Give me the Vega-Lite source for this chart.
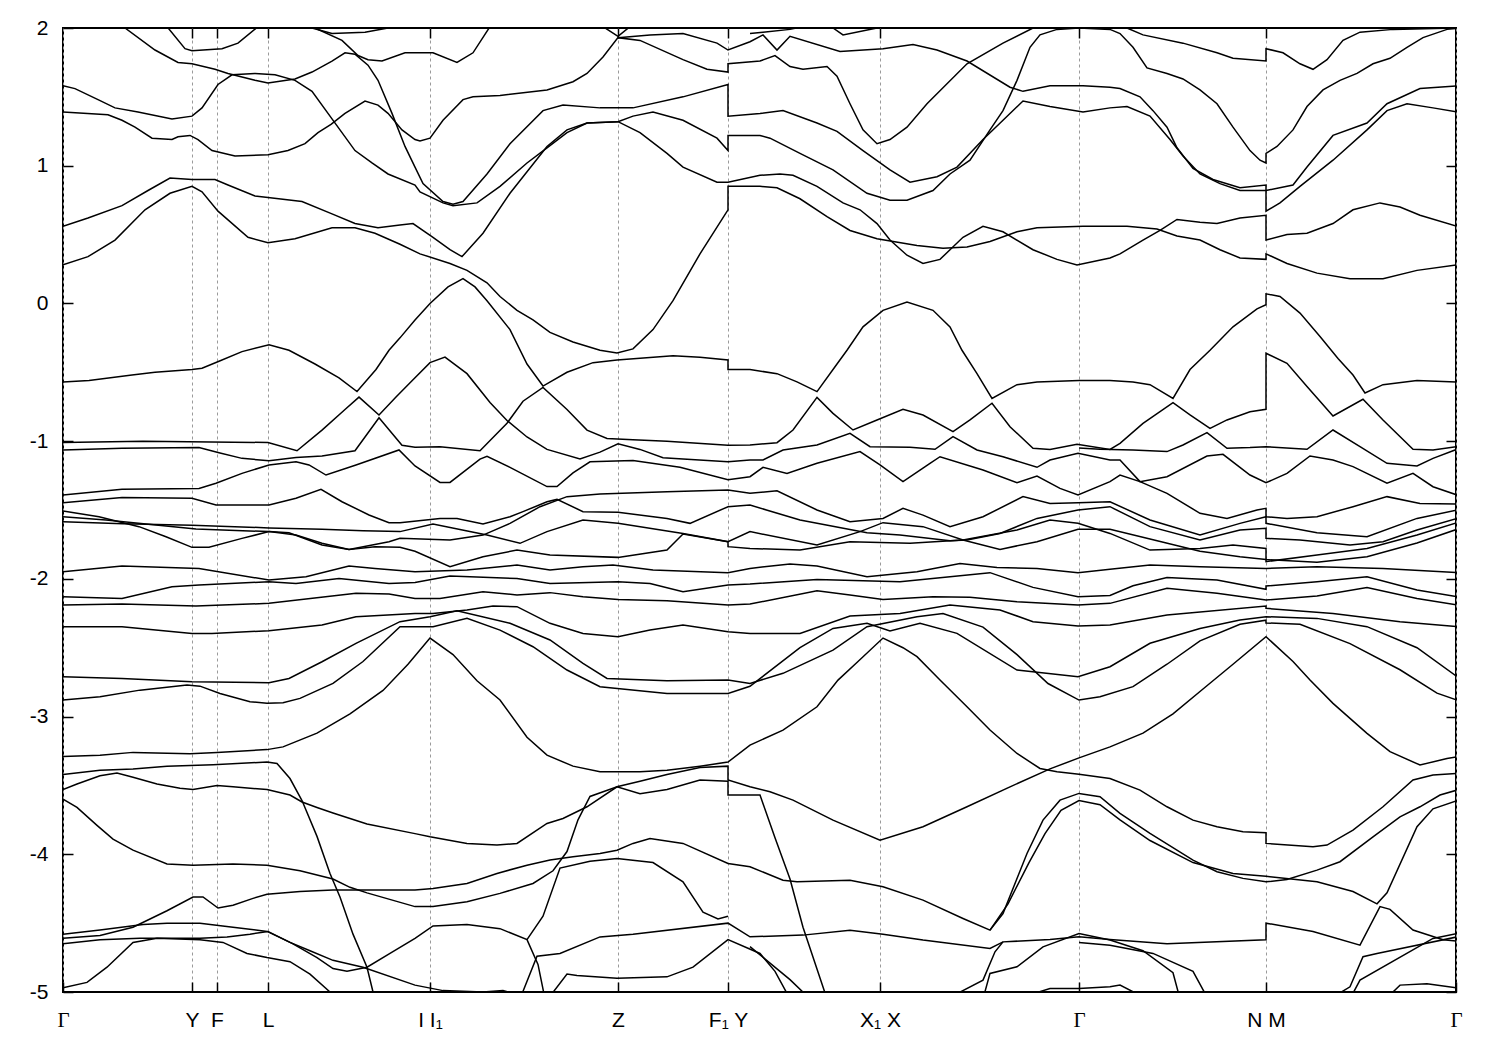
{
"$schema":"https://vega.github.io/schema/vega-lite/v6.json",
"width":1393,"height":964,
"autosize":{"type":"none"},
"padding":{"left":63,"top":28,"right":44,"bottom":58},
"config":{"view":{"stroke":"black","strokeWidth":2},"font":"Liberation Sans"},
"datasets":{"bands":[
{"b":"c01","k":104,"E":2.01},{"b":"c01","k":122,"E":1.85},{"b":"c01","k":129,"E":1.835},{"b":"c01","k":159,"E":1.85},{"b":"c01","k":175,"E":1.89},{"b":"c01","k":195,"E":2.01},
{"b":"c02","k":62,"E":2.0},{"b":"c02","k":92,"E":1.84},{"b":"c02","k":115,"E":1.75},{"b":"c02","k":129,"E":1.74},{"b":"c02","k":152,"E":1.7},{"b":"c02","k":165,"E":1.67},{"b":"c02","k":192,"E":1.62},{"b":"c02","k":205,"E":1.6},{"b":"c02","k":232,"E":1.63},{"b":"c02","k":249,"E":1.68},{"b":"c02","k":269,"E":1.76},{"b":"c02","k":282,"E":1.82},{"b":"c02","k":292,"E":1.81},{"b":"c02","k":305,"E":1.73},{"b":"c02","k":315,"E":1.62},{"b":"c02","k":329,"E":1.38},{"b":"c02","k":342,"E":1.14},{"b":"c02","k":352,"E":0.99},{"b":"c02","k":360,"E":0.87},{"b":"c02","k":380,"E":0.74},{"b":"c02","k":390,"E":0.72},{"b":"c02","k":400,"E":0.74},{"b":"c02","k":424,"E":0.94},{"b":"c02","k":447,"E":1.16},{"b":"c02","k":480,"E":1.4},{"b":"c02","k":500,"E":1.44},{"b":"c02","k":537,"E":1.42},{"b":"c02","k":570,"E":1.42},{"b":"c02","k":620,"E":1.5},{"b":"c02","k":665,"E":1.59},{"b":"c02","k":665.01,"E":1.36},{"b":"c02","k":697,"E":1.38},{"b":"c02","k":720,"E":1.4},{"b":"c02","k":754,"E":1.31},{"b":"c02","k":774,"E":1.25},{"b":"c02","k":800,"E":1.11},{"b":"c02","k":827,"E":0.97},{"b":"c02","k":847,"E":0.88},{"b":"c02","k":874,"E":0.92},{"b":"c02","k":894,"E":0.99},{"b":"c02","k":920,"E":1.19},{"b":"c02","k":940,"E":1.33},{"b":"c02","k":960,"E":1.47},{"b":"c02","k":987,"E":1.43},{"b":"c02","k":1020,"E":1.39},{"b":"c02","k":1047,"E":1.42},{"b":"c02","k":1064,"E":1.43},{"b":"c02","k":1087,"E":1.36},{"b":"c02","k":1107,"E":1.19},{"b":"c02","k":1120,"E":1.07},{"b":"c02","k":1137,"E":0.94},{"b":"c02","k":1157,"E":0.87},{"b":"c02","k":1177,"E":0.82},{"b":"c02","k":1203,"E":0.82},{"b":"c02","k":1230,"E":0.86},{"b":"c02","k":1244,"E":0.99},{"b":"c02","k":1270,"E":1.22},{"b":"c02","k":1304,"E":1.31},{"b":"c02","k":1324,"E":1.45},{"b":"c02","k":1357,"E":1.56},{"b":"c02","k":1394,"E":1.58},
{"b":"c03","k":0,"E":1.58},{"b":"c03","k":12,"E":1.56},{"b":"c03","k":35,"E":1.48},{"b":"c03","k":52,"E":1.42},{"b":"c03","k":75,"E":1.39},{"b":"c03","k":109,"E":1.34},{"b":"c03","k":129,"E":1.36},{"b":"c03","k":139,"E":1.42},{"b":"c03","k":155,"E":1.59},{"b":"c03","k":169,"E":1.66},{"b":"c03","k":192,"E":1.67},{"b":"c03","k":212,"E":1.66},{"b":"c03","k":232,"E":1.62},{"b":"c03","k":249,"E":1.54},{"b":"c03","k":269,"E":1.34},{"b":"c03","k":292,"E":1.11},{"b":"c03","k":309,"E":1.02},{"b":"c03","k":325,"E":0.94},{"b":"c03","k":352,"E":0.86},{"b":"c03","k":357,"E":0.81},{"b":"c03","k":380,"E":0.73},{"b":"c03","k":390,"E":0.71},{"b":"c03","k":414,"E":0.73},{"b":"c03","k":437,"E":0.85},{"b":"c03","k":464,"E":1.02},{"b":"c03","k":484,"E":1.13},{"b":"c03","k":504,"E":1.24},{"b":"c03","k":524,"E":1.31},{"b":"c03","k":555,"E":1.32},{"b":"c03","k":577,"E":1.24},{"b":"c03","k":604,"E":1.09},{"b":"c03","k":620,"E":0.99},{"b":"c03","k":654,"E":0.88},{"b":"c03","k":665,"E":0.88},{"b":"c03","k":697,"E":0.93},{"b":"c03","k":717,"E":0.94},{"b":"c03","k":730,"E":0.93},{"b":"c03","k":754,"E":0.85},{"b":"c03","k":780,"E":0.73},{"b":"c03","k":797,"E":0.68},{"b":"c03","k":814,"E":0.58},{"b":"c03","k":827,"E":0.46},{"b":"c03","k":844,"E":0.35},{"b":"c03","k":860,"E":0.29},{"b":"c03","k":877,"E":0.32},{"b":"c03","k":900,"E":0.48},{"b":"c03","k":920,"E":0.56},{"b":"c03","k":940,"E":0.52},{"b":"c03","k":970,"E":0.39},{"b":"c03","k":994,"E":0.32},{"b":"c03","k":1014,"E":0.28},{"b":"c03","k":1047,"E":0.33},{"b":"c03","k":1057,"E":0.36},{"b":"c03","k":1080,"E":0.46},{"b":"c03","k":1097,"E":0.53},{"b":"c03","k":1114,"E":0.61},{"b":"c03","k":1137,"E":0.59},{"b":"c03","k":1154,"E":0.58},{"b":"c03","k":1177,"E":0.62},{"b":"c03","k":1203,"E":0.64},{"b":"c03","k":1203.01,"E":0.46},{"b":"c03","k":1224,"E":0.5},{"b":"c03","k":1244,"E":0.51},{"b":"c03","k":1270,"E":0.58},{"b":"c03","k":1290,"E":0.68},{"b":"c03","k":1317,"E":0.73},{"b":"c03","k":1337,"E":0.7},{"b":"c03","k":1357,"E":0.64},{"b":"c03","k":1394,"E":0.56},
{"b":"c04","k":0,"E":1.39},{"b":"c04","k":45,"E":1.37},{"b":"c04","k":59,"E":1.33},{"b":"c04","k":72,"E":1.28},{"b":"c04","k":89,"E":1.2},{"b":"c04","k":109,"E":1.19},{"b":"c04","k":115,"E":1.21},{"b":"c04","k":127,"E":1.22},{"b":"c04","k":135,"E":1.19},{"b":"c04","k":149,"E":1.11},{"b":"c04","k":172,"E":1.07},{"b":"c04","k":205,"E":1.08},{"b":"c04","k":225,"E":1.11},{"b":"c04","k":242,"E":1.16},{"b":"c04","k":255,"E":1.24},{"b":"c04","k":268,"E":1.3},{"b":"c04","k":282,"E":1.38},{"b":"c04","k":302,"E":1.47},{"b":"c04","k":315,"E":1.44},{"b":"c04","k":325,"E":1.38},{"b":"c04","k":339,"E":1.26},{"b":"c04","k":352,"E":1.19},{"b":"c04","k":357,"E":1.18},{"b":"c04","k":367,"E":1.2},{"b":"c04","k":380,"E":1.33},{"b":"c04","k":400,"E":1.48},{"b":"c04","k":410,"E":1.5},{"b":"c04","k":437,"E":1.51},{"b":"c04","k":484,"E":1.55},{"b":"c04","k":510,"E":1.61},{"b":"c04","k":524,"E":1.67},{"b":"c04","k":540,"E":1.79},{"b":"c04","k":555,"E":1.93},{"b":"c04","k":577,"E":1.91},{"b":"c04","k":620,"E":1.77},{"b":"c04","k":644,"E":1.7},{"b":"c04","k":665,"E":1.68},{"b":"c04","k":665.01,"E":1.74},{"b":"c04","k":697,"E":1.76},{"b":"c04","k":712,"E":1.8},{"b":"c04","k":727,"E":1.72},{"b":"c04","k":740,"E":1.7},{"b":"c04","k":764,"E":1.72},{"b":"c04","k":774,"E":1.65},{"b":"c04","k":787,"E":1.45},{"b":"c04","k":800,"E":1.26},{"b":"c04","k":814,"E":1.16},{"b":"c04","k":827,"E":1.19},{"b":"c04","k":844,"E":1.28},{"b":"c04","k":864,"E":1.45},{"b":"c04","k":904,"E":1.74},{"b":"c04","k":940,"E":1.89},{"b":"c04","k":970,"E":2.0},{"b":"c04","k":980,"E":2.03},
{"b":"c05","k":0,"E":0.56},{"b":"c05","k":25,"E":0.62},{"b":"c05","k":59,"E":0.71},{"b":"c05","k":85,"E":0.82},{"b":"c05","k":107,"E":0.91},{"b":"c05","k":129,"E":0.9},{"b":"c05","k":152,"E":0.9},{"b":"c05","k":165,"E":0.86},{"b":"c05","k":192,"E":0.78},{"b":"c05","k":205,"E":0.77},{"b":"c05","k":239,"E":0.74},{"b":"c05","k":269,"E":0.65},{"b":"c05","k":292,"E":0.58},{"b":"c05","k":315,"E":0.55},{"b":"c05","k":337,"E":0.57},{"b":"c05","k":350,"E":0.58},{"b":"c05","k":370,"E":0.48},{"b":"c05","k":387,"E":0.39},{"b":"c05","k":399,"E":0.34},{"b":"c05","k":420,"E":0.51},{"b":"c05","k":447,"E":0.8},{"b":"c05","k":484,"E":1.14},{"b":"c05","k":504,"E":1.26},{"b":"c05","k":524,"E":1.31},{"b":"c05","k":555,"E":1.32},{"b":"c05","k":570,"E":1.36},{"b":"c05","k":590,"E":1.39},{"b":"c05","k":620,"E":1.33},{"b":"c05","k":654,"E":1.2},{"b":"c05","k":665,"E":1.11},{"b":"c05","k":665.01,"E":1.22},{"b":"c05","k":697,"E":1.22},{"b":"c05","k":707,"E":1.2},{"b":"c05","k":737,"E":1.09},{"b":"c05","k":770,"E":0.97},{"b":"c05","k":804,"E":0.8},{"b":"c05","k":827,"E":0.75},{"b":"c05","k":844,"E":0.75},{"b":"c05","k":870,"E":0.82},{"b":"c05","k":887,"E":0.94},{"b":"c05","k":907,"E":1.04},{"b":"c05","k":927,"E":1.26},{"b":"c05","k":940,"E":1.4},{"b":"c05","k":954,"E":1.62},{"b":"c05","k":967,"E":1.86},{"b":"c05","k":977,"E":1.95},{"b":"c05","k":994,"E":1.99},{"b":"c05","k":1016,"E":2.0},{"b":"c05","k":1047,"E":1.99},{"b":"c05","k":1057,"E":1.96},{"b":"c05","k":1070,"E":1.86},{"b":"c05","k":1084,"E":1.71},{"b":"c05","k":1104,"E":1.67},{"b":"c05","k":1120,"E":1.63},{"b":"c05","k":1137,"E":1.55},{"b":"c05","k":1154,"E":1.45},{"b":"c05","k":1170,"E":1.28},{"b":"c05","k":1187,"E":1.11},{"b":"c05","k":1197,"E":1.04},{"b":"c05","k":1203,"E":1.02},{"b":"c05","k":1203.01,"E":1.09},{"b":"c05","k":1214,"E":1.14},{"b":"c05","k":1230,"E":1.26},{"b":"c05","k":1244,"E":1.43},{"b":"c05","k":1260,"E":1.55},{"b":"c05","k":1277,"E":1.62},{"b":"c05","k":1294,"E":1.67},{"b":"c05","k":1310,"E":1.74},{"b":"c05","k":1327,"E":1.78},{"b":"c05","k":1344,"E":1.86},{"b":"c05","k":1360,"E":1.93},{"b":"c05","k":1384,"E":1.99},{"b":"c05","k":1394,"E":2.0},
{"b":"c06","k":0,"E":0.28},{"b":"c06","k":25,"E":0.34},{"b":"c06","k":52,"E":0.46},{"b":"c06","k":82,"E":0.68},{"b":"c06","k":107,"E":0.8},{"b":"c06","k":129,"E":0.85},{"b":"c06","k":139,"E":0.81},{"b":"c06","k":155,"E":0.67},{"b":"c06","k":185,"E":0.48},{"b":"c06","k":205,"E":0.44},{"b":"c06","k":232,"E":0.47},{"b":"c06","k":269,"E":0.55},{"b":"c06","k":292,"E":0.55},{"b":"c06","k":312,"E":0.51},{"b":"c06","k":337,"E":0.43},{"b":"c06","k":357,"E":0.36},{"b":"c06","k":387,"E":0.29},{"b":"c06","k":404,"E":0.24},{"b":"c06","k":424,"E":0.15},{"b":"c06","k":437,"E":0.05},{"b":"c06","k":454,"E":-0.05},{"b":"c06","k":470,"E":-0.12},{"b":"c06","k":487,"E":-0.21},{"b":"c06","k":510,"E":-0.28},{"b":"c06","k":537,"E":-0.34},{"b":"c06","k":554,"E":-0.36},{"b":"c06","k":570,"E":-0.33},{"b":"c06","k":590,"E":-0.19},{"b":"c06","k":610,"E":0.02},{"b":"c06","k":637,"E":0.36},{"b":"c06","k":665,"E":0.68},{"b":"c06","k":665.01,"E":0.85},{"b":"c06","k":697,"E":0.85},{"b":"c06","k":714,"E":0.84},{"b":"c06","k":737,"E":0.76},{"b":"c06","k":764,"E":0.63},{"b":"c06","k":787,"E":0.53},{"b":"c06","k":814,"E":0.47},{"b":"c06","k":854,"E":0.42},{"b":"c06","k":880,"E":0.4},{"b":"c06","k":904,"E":0.41},{"b":"c06","k":927,"E":0.45},{"b":"c06","k":954,"E":0.52},{"b":"c06","k":974,"E":0.55},{"b":"c06","k":1020,"E":0.56},{"b":"c06","k":1047,"E":0.56},{"b":"c06","k":1064,"E":0.56},{"b":"c06","k":1094,"E":0.54},{"b":"c06","k":1114,"E":0.49},{"b":"c06","k":1137,"E":0.46},{"b":"c06","k":1157,"E":0.39},{"b":"c06","k":1177,"E":0.33},{"b":"c06","k":1203,"E":0.32},{"b":"c06","k":1203.01,"E":0.36},{"b":"c06","k":1224,"E":0.29},{"b":"c06","k":1254,"E":0.22},{"b":"c06","k":1287,"E":0.18},{"b":"c06","k":1320,"E":0.18},{"b":"c06","k":1354,"E":0.24},{"b":"c06","k":1394,"E":0.28},
{"b":"c07","k":249,"E":2.0},{"b":"c07","k":269,"E":1.96},{"b":"c07","k":302,"E":1.97},{"b":"c07","k":325,"E":2.0},
{"b":"c08","k":252,"E":2.0},{"b":"c08","k":279,"E":1.91},{"b":"c08","k":295,"E":1.8},{"b":"c08","k":305,"E":1.77},{"b":"c08","k":319,"E":1.76},{"b":"c08","k":342,"E":1.82},{"b":"c08","k":352,"E":1.82},{"b":"c08","k":370,"E":1.82},{"b":"c08","k":394,"E":1.75},{"b":"c08","k":410,"E":1.82},{"b":"c08","k":427,"E":2.01},
{"b":"c09","k":540,"E":2.01},{"b":"c09","k":555,"E":1.94},{"b":"c09","k":567,"E":2.01},
{"b":"c10","k":555,"E":1.93},{"b":"c10","k":587,"E":1.95},{"b":"c10","k":620,"E":1.96},{"b":"c10","k":654,"E":1.89},{"b":"c10","k":665,"E":1.84},{"b":"c10","k":687,"E":1.9},{"b":"c10","k":700,"E":1.95},{"b":"c10","k":714,"E":1.84},{"b":"c10","k":727,"E":1.94},{"b":"c10","k":777,"E":1.83},{"b":"c10","k":820,"E":1.85},{"b":"c10","k":850,"E":1.88},{"b":"c10","k":874,"E":1.84},{"b":"c10","k":904,"E":1.76},{"b":"c10","k":947,"E":1.57},{"b":"c10","k":960,"E":1.54},{"b":"c10","k":987,"E":1.58},{"b":"c10","k":1020,"E":1.58},{"b":"c10","k":1047,"E":1.57},{"b":"c10","k":1057,"E":1.56},{"b":"c10","k":1077,"E":1.5},{"b":"c10","k":1090,"E":1.4},{"b":"c10","k":1104,"E":1.28},{"b":"c10","k":1114,"E":1.13},{"b":"c10","k":1130,"E":0.98},{"b":"c10","k":1150,"E":0.9},{"b":"c10","k":1177,"E":0.84},{"b":"c10","k":1203,"E":0.86},{"b":"c10","k":1203.01,"E":0.67},{"b":"c10","k":1217,"E":0.73},{"b":"c10","k":1237,"E":0.85},{"b":"c10","k":1270,"E":1.04},{"b":"c10","k":1304,"E":1.26},{"b":"c10","k":1324,"E":1.4},{"b":"c10","k":1344,"E":1.45},{"b":"c10","k":1370,"E":1.42},{"b":"c10","k":1394,"E":1.39},
{"b":"c11","k":687,"E":1.96},{"b":"c11","k":700,"E":1.97},{"b":"c11","k":727,"E":1.99},{"b":"c11","k":740,"E":2.01},
{"b":"c12","k":770,"E":2.0},{"b":"c12","k":780,"E":1.95},{"b":"c12","k":814,"E":2.0},
{"b":"c13","k":1064,"E":2.0},{"b":"c13","k":1080,"E":1.95},{"b":"c13","k":1120,"E":1.89},{"b":"c13","k":1154,"E":1.82},{"b":"c13","k":1170,"E":1.78},{"b":"c13","k":1203,"E":1.76},{"b":"c13","k":1203.01,"E":1.85},{"b":"c13","k":1220,"E":1.82},{"b":"c13","k":1237,"E":1.74},{"b":"c13","k":1250,"E":1.7},{"b":"c13","k":1264,"E":1.77},{"b":"c13","k":1280,"E":1.91},{"b":"c13","k":1297,"E":1.97},{"b":"c13","k":1330,"E":1.99},{"b":"c13","k":1394,"E":2.0},
{"b":"v01","k":0,"E":-0.57},{"b":"v01","k":26,"E":-0.56},{"b":"v01","k":69,"E":-0.52},{"b":"v01","k":92,"E":-0.5},{"b":"v01","k":129,"E":-0.48},{"b":"v01","k":139,"E":-0.47},{"b":"v01","k":156,"E":-0.42},{"b":"v01","k":179,"E":-0.35},{"b":"v01","k":206,"E":-0.3},{"b":"v01","k":226,"E":-0.34},{"b":"v01","k":252,"E":-0.44},{"b":"v01","k":276,"E":-0.54},{"b":"v01","k":294,"E":-0.64},{"b":"v01","k":313,"E":-0.48},{"b":"v01","k":326,"E":-0.34},{"b":"v01","k":337,"E":-0.25},{"b":"v01","k":352,"E":-0.12},{"b":"v01","k":367,"E":0.0},{"b":"v01","k":385,"E":0.12},{"b":"v01","k":400,"E":0.18},{"b":"v01","k":412,"E":0.12},{"b":"v01","k":424,"E":0.02},{"b":"v01","k":447,"E":-0.19},{"b":"v01","k":464,"E":-0.44},{"b":"v01","k":480,"E":-0.6},{"b":"v01","k":504,"E":-0.5},{"b":"v01","k":530,"E":-0.43},{"b":"v01","k":554,"E":-0.41},{"b":"v01","k":610,"E":-0.38},{"b":"v01","k":637,"E":-0.39},{"b":"v01","k":665,"E":-0.41},{"b":"v01","k":665.01,"E":-0.48},{"b":"v01","k":687,"E":-0.48},{"b":"v01","k":714,"E":-0.51},{"b":"v01","k":734,"E":-0.57},{"b":"v01","k":754,"E":-0.64},{"b":"v01","k":774,"E":-0.44},{"b":"v01","k":784,"E":-0.34},{"b":"v01","k":800,"E":-0.17},{"b":"v01","k":820,"E":-0.05},{"b":"v01","k":844,"E":0.01},{"b":"v01","k":870,"E":-0.05},{"b":"v01","k":887,"E":-0.17},{"b":"v01","k":899,"E":-0.34},{"b":"v01","k":914,"E":-0.51},{"b":"v01","k":929,"E":-0.69},{"b":"v01","k":954,"E":-0.59},{"b":"v01","k":974,"E":-0.57},{"b":"v01","k":1016,"E":-0.56},{"b":"v01","k":1047,"E":-0.56},{"b":"v01","k":1070,"E":-0.57},{"b":"v01","k":1087,"E":-0.59},{"b":"v01","k":1110,"E":-0.69},{"b":"v01","k":1127,"E":-0.48},{"b":"v01","k":1147,"E":-0.34},{"b":"v01","k":1170,"E":-0.17},{"b":"v01","k":1194,"E":-0.04},{"b":"v01","k":1203,"E":-0.01},{"b":"v01","k":1203.01,"E":0.07},{"b":"v01","k":1217,"E":0.05},{"b":"v01","k":1237,"E":-0.07},{"b":"v01","k":1257,"E":-0.24},{"b":"v01","k":1275,"E":-0.4},{"b":"v01","k":1290,"E":-0.52},{"b":"v01","k":1302,"E":-0.65},{"b":"v01","k":1320,"E":-0.59},{"b":"v01","k":1354,"E":-0.56},{"b":"v01","k":1394,"E":-0.57},
{"b":"v02","k":0,"E":-1.01},{"b":"v02","k":80,"E":-1.0},{"b":"v02","k":205,"E":-1.01},{"b":"v02","k":234,"E":-1.07},{"b":"v02","k":259,"E":-0.92},{"b":"v02","k":282,"E":-0.77},{"b":"v02","k":296,"E":-0.68},{"b":"v02","k":316,"E":-0.81},{"b":"v02","k":333,"E":-0.68},{"b":"v02","k":352,"E":-0.54},{"b":"v02","k":367,"E":-0.43},{"b":"v02","k":382,"E":-0.39},{"b":"v02","k":404,"E":-0.51},{"b":"v02","k":427,"E":-0.72},{"b":"v02","k":444,"E":-0.85},{"b":"v02","k":464,"E":-0.97},{"b":"v02","k":484,"E":-1.06},{"b":"v02","k":517,"E":-1.13},{"b":"v02","k":537,"E":-1.08},{"b":"v02","k":555,"E":-1.02},{"b":"v02","k":577,"E":-1.06},{"b":"v02","k":600,"E":-1.12},{"b":"v02","k":620,"E":-1.13},{"b":"v02","k":665,"E":-1.15},{"b":"v02","k":687,"E":-1.137},{"b":"v02","k":700,"E":-1.137},{"b":"v02","k":720,"E":-1.064},{"b":"v02","k":754,"E":-1.028},{"b":"v02","k":787,"E":-0.943},{"b":"v02","k":807,"E":-1.04},{"b":"v02","k":847,"E":-1.045},{"b":"v02","k":872,"E":-1.059},{"b":"v02","k":890,"E":-0.967},{"b":"v02","k":914,"E":-1.064},{"b":"v02","k":940,"E":-1.113},{"b":"v02","k":974,"E":-1.19},{"b":"v02","k":987,"E":-1.137},{"b":"v02","k":1015,"E":-1.088},{"b":"v02","k":1047,"E":-1.137},{"b":"v02","k":1057,"E":-1.137},{"b":"v02","k":1077,"E":-1.294},{"b":"v02","k":1104,"E":-1.258},{"b":"v02","k":1144,"E":-1.108},{"b":"v02","k":1160,"E":-1.096},{"b":"v02","k":1187,"E":-1.246},{"b":"v02","k":1203,"E":-1.302},{"b":"v02","k":1224,"E":-1.234},{"b":"v02","k":1247,"E":-1.108},{"b":"v02","k":1270,"E":-1.137},{"b":"v02","k":1290,"E":-1.185},{"b":"v02","k":1324,"E":-1.306},{"b":"v02","k":1350,"E":-1.234},{"b":"v02","k":1370,"E":-1.331},{"b":"v02","k":1394,"E":-1.391},
{"b":"v03","k":0,"E":-1.064},{"b":"v03","k":59,"E":-1.052},{"b":"v03","k":136,"E":-1.047},{"b":"v03","k":156,"E":-1.084},{"b":"v03","k":179,"E":-1.125},{"b":"v03","k":206,"E":-1.142},{"b":"v03","k":233,"E":-1.118},{"b":"v03","k":259,"E":-1.108},{"b":"v03","k":292,"E":-1.07},{"b":"v03","k":316,"E":-0.83},{"b":"v03","k":339,"E":-1.03},{"b":"v03","k":352,"E":-1.045},{"b":"v03","k":377,"E":-1.04},{"b":"v03","k":417,"E":-1.07},{"b":"v03","k":444,"E":-0.87},{"b":"v03","k":460,"E":-0.71},{"b":"v03","k":480,"E":-0.61},{"b":"v03","k":504,"E":-0.77},{"b":"v03","k":524,"E":-0.92},{"b":"v03","k":544,"E":-0.98},{"b":"v03","k":570,"E":-0.99},{"b":"v03","k":604,"E":-1.0},{"b":"v03","k":665,"E":-1.03},{"b":"v03","k":687,"E":-1.028},{"b":"v03","k":714,"E":-1.011},{"b":"v03","k":730,"E":-0.919},{"b":"v03","k":754,"E":-0.682},{"b":"v03","k":770,"E":-0.798},{"b":"v03","k":790,"E":-0.919},{"b":"v03","k":814,"E":-0.846},{"b":"v03","k":840,"E":-0.769},{"b":"v03","k":860,"E":-0.81},{"b":"v03","k":890,"E":-0.931},{"b":"v03","k":907,"E":-0.846},{"b":"v03","k":929,"E":-0.725},{"b":"v03","k":947,"E":-0.895},{"b":"v03","k":970,"E":-1.052},{"b":"v03","k":987,"E":-1.06},{"b":"v03","k":1014,"E":-1.023},{"b":"v03","k":1047,"E":-1.06},{"b":"v03","k":1057,"E":-1.016},{"b":"v03","k":1080,"E":-0.871},{"b":"v03","k":1110,"E":-0.72},{"b":"v03","k":1127,"E":-0.81},{"b":"v03","k":1147,"E":-0.907},{"b":"v03","k":1164,"E":-0.846},{"b":"v03","k":1187,"E":-0.786},{"b":"v03","k":1203,"E":-0.769},{"b":"v03","k":1203.01,"E":-0.362},{"b":"v03","k":1224,"E":-0.435},{"b":"v03","k":1244,"E":-0.604},{"b":"v03","k":1270,"E":-0.817},{"b":"v03","k":1300,"E":-0.696},{"b":"v03","k":1320,"E":-0.846},{"b":"v03","k":1350,"E":-1.059},{"b":"v03","k":1370,"E":-1.064},{"b":"v03","k":1394,"E":-1.04},
{"b":"v04","k":0,"E":-1.391},{"b":"v04","k":59,"E":-1.35},{"b":"v04","k":136,"E":-1.343},{"b":"v04","k":153,"E":-1.306},{"b":"v04","k":179,"E":-1.234},{"b":"v04","k":206,"E":-1.173},{"b":"v04","k":233,"E":-1.149},{"b":"v04","k":246,"E":-1.173},{"b":"v04","k":263,"E":-1.246},{"b":"v04","k":293,"E":-1.173},{"b":"v04","k":336,"E":-1.064},{"b":"v04","k":352,"E":-1.18},{"b":"v04","k":377,"E":-1.3},{"b":"v04","k":387,"E":-1.3},{"b":"v04","k":417,"E":-1.13},{"b":"v04","k":424,"E":-1.11},{"b":"v04","k":447,"E":-1.19},{"b":"v04","k":484,"E":-1.33},{"b":"v04","k":494,"E":-1.33},{"b":"v04","k":510,"E":-1.23},{"b":"v04","k":527,"E":-1.15},{"b":"v04","k":570,"E":-1.14},{"b":"v04","k":617,"E":-1.19},{"b":"v04","k":665,"E":-1.28},{"b":"v04","k":687,"E":-1.258},{"b":"v04","k":700,"E":-1.19},{"b":"v04","k":724,"E":-1.234},{"b":"v04","k":754,"E":-1.161},{"b":"v04","k":797,"E":-1.076},{"b":"v04","k":817,"E":-1.173},{"b":"v04","k":840,"E":-1.294},{"b":"v04","k":867,"E":-1.161},{"b":"v04","k":877,"E":-1.113},{"b":"v04","k":920,"E":-1.21},{"b":"v04","k":954,"E":-1.302},{"b":"v04","k":974,"E":-1.253},{"b":"v04","k":997,"E":-1.343},{"b":"v04","k":1015,"E":-1.391},{"b":"v04","k":1047,"E":-1.294},{"b":"v04","k":1057,"E":-1.246},{"b":"v04","k":1077,"E":-1.294},{"b":"v04","k":1104,"E":-1.379},{"b":"v04","k":1137,"E":-1.524},{"b":"v04","k":1164,"E":-1.561},{"b":"v04","k":1194,"E":-1.5},{"b":"v04","k":1203,"E":-1.488},{"b":"v04","k":1203.01,"E":-1.549},{"b":"v04","k":1224,"E":-1.561},{"b":"v04","k":1254,"E":-1.549},{"b":"v04","k":1290,"E":-1.476},{"b":"v04","k":1324,"E":-1.403},{"b":"v04","k":1357,"E":-1.452},{"b":"v04","k":1394,"E":-1.457},
{"b":"v05","k":1016,"E":-1.05},{"b":"v05","k":1037,"E":-1.059},{"b":"v05","k":1070,"E":-1.064},{"b":"v05","k":1104,"E":-1.076},{"b":"v05","k":1120,"E":-1.028},{"b":"v05","k":1144,"E":-0.938},{"b":"v05","k":1164,"E":-1.052},{"b":"v05","k":1187,"E":-1.047},{"b":"v05","k":1203,"E":-1.04},{"b":"v05","k":1244,"E":-1.059},{"b":"v05","k":1270,"E":-0.919},{"b":"v05","k":1297,"E":-1.04},{"b":"v05","k":1324,"E":-1.161},{"b":"v05","k":1354,"E":-1.18},{"b":"v05","k":1370,"E":-1.125},{"b":"v05","k":1394,"E":-1.059},
{"b":"pa","k":0,"E":-1.447},{"b":"pa","k":59,"E":-1.41},{"b":"pa","k":129,"E":-1.415},{"b":"pa","k":153,"E":-1.464},{"b":"pa","k":206,"E":-1.464},{"b":"pa","k":233,"E":-1.415},{"b":"pa","k":258,"E":-1.35},{"b":"pa","k":279,"E":-1.44},{"b":"pa","k":306,"E":-1.536},{"b":"pa","k":326,"E":-1.592},{"b":"pa","k":337,"E":-1.592},{"b":"pa","k":377,"E":-1.561},{"b":"pa","k":394,"E":-1.561},{"b":"pa","k":420,"E":-1.602},{"b":"pa","k":447,"E":-1.549},{"b":"pa","k":460,"E":-1.512},{"b":"pa","k":484,"E":-1.44},{"b":"pa","k":494,"E":-1.423},{"b":"pa","k":520,"E":-1.512},{"b":"pa","k":555,"E":-1.517},{"b":"pa","k":604,"E":-1.561},{"b":"pa","k":627,"E":-1.597},{"b":"pa","k":665,"E":-1.476},{"b":"pa","k":687,"E":-1.464},{"b":"pa","k":737,"E":-1.573},{"b":"pa","k":804,"E":-1.665},{"b":"pa","k":837,"E":-1.682},{"b":"pa","k":887,"E":-1.723},{"b":"pa","k":904,"E":-1.718},{"b":"pa","k":937,"E":-1.67},{"b":"pa","k":974,"E":-1.561},{"b":"pa","k":1015,"E":-1.5},{"b":"pa","k":1047,"E":-1.476},{"b":"pa","k":1087,"E":-1.621},{"b":"pa","k":1137,"E":-1.718},{"b":"pa","k":1177,"E":-1.645},{"b":"pa","k":1203,"E":-1.633},{"b":"pa","k":1203.01,"E":-1.706},{"b":"pa","k":1237,"E":-1.718},{"b":"pa","k":1287,"E":-1.754},{"b":"pa","k":1320,"E":-1.73},{"b":"pa","k":1354,"E":-1.645},{"b":"pa","k":1394,"E":-1.561},
{"b":"pb","k":0,"E":-1.549},{"b":"pb","k":43,"E":-1.573},{"b":"pb","k":93,"E":-1.609},{"b":"pb","k":133,"E":-1.638},{"b":"pb","k":206,"E":-1.657},{"b":"pb","k":226,"E":-1.665},{"b":"pb","k":259,"E":-1.754},{"b":"pb","k":286,"E":-1.786},{"b":"pb","k":326,"E":-1.73},{"b":"pb","k":337,"E":-1.706},{"b":"pb","k":387,"E":-1.718},{"b":"pb","k":420,"E":-1.682},{"b":"pb","k":447,"E":-1.597},{"b":"pb","k":477,"E":-1.476},{"b":"pb","k":504,"E":-1.403},{"b":"pb","k":537,"E":-1.384},{"b":"pb","k":604,"E":-1.367},{"b":"pb","k":665,"E":-1.355},{"b":"pb","k":687,"E":-1.379},{"b":"pb","k":714,"E":-1.36},{"b":"pb","k":754,"E":-1.5},{"b":"pb","k":787,"E":-1.585},{"b":"pb","k":820,"E":-1.561},{"b":"pb","k":840,"E":-1.488},{"b":"pb","k":860,"E":-1.537},{"b":"pb","k":887,"E":-1.621},{"b":"pb","k":920,"E":-1.549},{"b":"pb","k":960,"E":-1.403},{"b":"pb","k":987,"E":-1.452},{"b":"pb","k":1015,"E":-1.447},{"b":"pb","k":1047,"E":-1.44},{"b":"pb","k":1087,"E":-1.573},{"b":"pb","k":1137,"E":-1.682},{"b":"pb","k":1177,"E":-1.597},{"b":"pb","k":1203,"E":-1.549},{"b":"pb","k":1203.01,"E":-1.597},{"b":"pb","k":1254,"E":-1.665},{"b":"pb","k":1304,"E":-1.694},{"b":"pb","k":1354,"E":-1.561},{"b":"pb","k":1394,"E":-1.5},
{"b":"pc","k":0,"E":-1.507},{"b":"pc","k":36,"E":-1.549},{"b":"pc","k":76,"E":-1.621},{"b":"pc","k":103,"E":-1.694},{"b":"pc","k":129,"E":-1.771},{"b":"pc","k":146,"E":-1.771},{"b":"pc","k":179,"E":-1.706},{"b":"pc","k":206,"E":-1.657},{"b":"pc","k":233,"E":-1.682},{"b":"pc","k":259,"E":-1.742},{"b":"pc","k":286,"E":-1.786},{"b":"pc","k":312,"E":-1.766},{"b":"pc","k":337,"E":-1.77},{"b":"pc","k":352,"E":-1.8},{"b":"pc","k":387,"E":-1.912},{"b":"pc","k":420,"E":-1.839},{"b":"pc","k":454,"E":-1.791},{"b":"pc","k":487,"E":-1.827},{"b":"pc","k":555,"E":-1.844},{"b":"pc","k":604,"E":-1.791},{"b":"pc","k":620,"E":-1.674},{"b":"pc","k":665,"E":-1.73},{"b":"pc","k":687,"E":-1.657},{"b":"pc","k":754,"E":-1.754},{"b":"pc","k":797,"E":-1.657},{"b":"pc","k":820,"E":-1.592},{"b":"pc","k":860,"E":-1.621},{"b":"pc","k":900,"E":-1.718},{"b":"pc","k":954,"E":-1.645},{"b":"pc","k":987,"E":-1.573},{"b":"pc","k":1015,"E":-1.597},{"b":"pc","k":1047,"E":-1.67},{"b":"pc","k":1087,"E":-1.791},{"b":"pc","k":1137,"E":-1.779},{"b":"pc","k":1170,"E":-1.754},{"b":"pc","k":1203,"E":-1.779},{"b":"pc","k":1203.01,"E":-1.875},{"b":"pc","k":1254,"E":-1.827},{"b":"pc","k":1304,"E":-1.779},{"b":"pc","k":1354,"E":-1.682},{"b":"pc","k":1394,"E":-1.592},
{"b":"pd","k":0,"E":-1.585},{"b":"pd","k":60,"E":-1.6},{"b":"pd","k":129,"E":-1.61},{"b":"pd","k":206,"E":-1.63},{"b":"pd","k":259,"E":-1.64},{"b":"pd","k":300,"E":-1.65},{"b":"pd","k":337,"E":-1.657},{"b":"pd","k":370,"E":-1.602},{"b":"pd","k":424,"E":-1.682},{"b":"pd","k":457,"E":-1.742},{"b":"pd","k":484,"E":-1.657},{"b":"pd","k":520,"E":-1.573},{"b":"pd","k":555,"E":-1.597},{"b":"pd","k":620,"E":-1.67},{"b":"pd","k":665,"E":-1.73},{"b":"pd","k":665.01,"E":-1.766},{"b":"pd","k":687,"E":-1.779},{"b":"pd","k":737,"E":-1.791},{"b":"pd","k":787,"E":-1.73},{"b":"pd","k":847,"E":-1.742},{"b":"pd","k":900,"E":-1.718},{"b":"pd","k":937,"E":-1.786},{"b":"pd","k":974,"E":-1.73},{"b":"pd","k":1015,"E":-1.64},{"b":"pd","k":1047,"E":-1.64},{"b":"pd","k":1087,"E":-1.71},{"b":"pd","k":1137,"E":-1.8},{"b":"pd","k":1177,"E":-1.84},{"b":"pd","k":1203,"E":-1.86},{"b":"pd","k":1254,"E":-1.88},{"b":"pd","k":1304,"E":-1.84},{"b":"pd","k":1354,"E":-1.74},{"b":"pd","k":1394,"E":-1.64},
{"b":"pe","k":0,"E":-1.948},{"b":"pe","k":59,"E":-1.907},{"b":"pe","k":136,"E":-1.924},{"b":"pe","k":206,"E":-2.009},{"b":"pe","k":243,"E":-1.984},{"b":"pe","k":286,"E":-1.907},{"b":"pe","k":312,"E":-1.924},{"b":"pe","k":352,"E":-1.948},{"b":"pe","k":404,"E":-1.936},{"b":"pe","k":454,"E":-1.9},{"b":"pe","k":487,"E":-1.936},{"b":"pe","k":520,"E":-1.912},{"b":"pe","k":550,"E":-1.9},{"b":"pe","k":590,"E":-1.936},{"b":"pe","k":665,"E":-1.955},{"b":"pe","k":687,"E":-1.924},{"b":"pe","k":727,"E":-1.892},{"b":"pe","k":754,"E":-1.907},{"b":"pe","k":804,"E":-1.984},{"b":"pe","k":854,"E":-1.948},{"b":"pe","k":897,"E":-1.888},{"b":"pe","k":934,"E":-1.917},{"b":"pe","k":974,"E":-1.924},{"b":"pe","k":1015,"E":-1.955},{"b":"pe","k":1047,"E":-1.931},{"b":"pe","k":1087,"E":-1.9},{"b":"pe","k":1137,"E":-1.912},{"b":"pe","k":1203,"E":-1.924},{"b":"pe","k":1254,"E":-1.912},{"b":"pe","k":1320,"E":-1.924},{"b":"pe","k":1394,"E":-1.955},
{"b":"pf","k":0,"E":-2.13},{"b":"pf","k":59,"E":-2.142},{"b":"pf","k":109,"E":-2.057},{"b":"pf","k":136,"E":-2.045},{"b":"pf","k":206,"E":-2.021},{"b":"pf","k":233,"E":-2.033},{"b":"pf","k":276,"E":-1.997},{"b":"pf","k":326,"E":-2.033},{"b":"pf","k":352,"E":-2.026},{"b":"pf","k":387,"E":-1.98},{"b":"pf","k":454,"E":-1.997},{"b":"pf","k":487,"E":-2.033},{"b":"pf","k":555,"E":-2.021},{"b":"pf","k":587,"E":-2.033},{"b":"pf","k":620,"E":-2.093},{"b":"pf","k":665,"E":-2.045},{"b":"pf","k":687,"E":-2.038},{"b":"pf","k":754,"E":-2.004},{"b":"pf","k":837,"E":-2.021},{"b":"pf","k":887,"E":-1.984},{"b":"pf","k":927,"E":-1.955},{"b":"pf","k":970,"E":-2.062},{"b":"pf","k":1015,"E":-2.13},{"b":"pf","k":1047,"E":-2.12},{"b":"pf","k":1070,"E":-2.05},{"b":"pf","k":1104,"E":-1.99},{"b":"pf","k":1154,"E":-2.009},{"b":"pf","k":1203,"E":-2.076},{"b":"pf","k":1203.01,"E":-2.052},{"b":"pf","k":1254,"E":-2.021},{"b":"pf","k":1304,"E":-1.984},{"b":"pf","k":1354,"E":-2.081},{"b":"pf","k":1394,"E":-2.13},
{"b":"pg","k":0,"E":-2.19},{"b":"pg","k":59,"E":-2.183},{"b":"pg","k":133,"E":-2.197},{"b":"pg","k":206,"E":-2.178},{"b":"pg","k":293,"E":-2.105},{"b":"pg","k":326,"E":-2.11},{"b":"pg","k":352,"E":-2.142},{"b":"pg","k":377,"E":-2.142},{"b":"pg","k":420,"E":-2.093},{"b":"pg","k":454,"E":-2.117},{"b":"pg","k":487,"E":-2.1},{"b":"pg","k":520,"E":-2.13},{"b":"pg","k":555,"E":-2.149},{"b":"pg","k":604,"E":-2.159},{"b":"pg","k":665,"E":-2.19},{"b":"pg","k":687,"E":-2.183},{"b":"pg","k":754,"E":-2.086},{"b":"pg","k":787,"E":-2.117},{"b":"pg","k":820,"E":-2.149},{"b":"pg","k":870,"E":-2.13},{"b":"pg","k":907,"E":-2.134},{"b":"pg","k":954,"E":-2.166},{"b":"pg","k":1015,"E":-2.19},{"b":"pg","k":1047,"E":-2.178},{"b":"pg","k":1104,"E":-2.069},{"b":"pg","k":1154,"E":-2.105},{"b":"pg","k":1203,"E":-2.154},{"b":"pg","k":1254,"E":-2.125},{"b":"pg","k":1304,"E":-2.062},{"b":"pg","k":1354,"E":-2.142},{"b":"pg","k":1394,"E":-2.19},
{"b":"ph","k":0,"E":-2.347},{"b":"ph","k":59,"E":-2.347},{"b":"ph","k":129,"E":-2.396},{"b":"ph","k":149,"E":-2.396},{"b":"ph","k":206,"E":-2.377},{"b":"ph","k":259,"E":-2.335},{"b":"ph","k":293,"E":-2.275},{"b":"ph","k":352,"E":-2.251},{"b":"ph","k":370,"E":-2.251},{"b":"ph","k":404,"E":-2.226},{"b":"ph","k":430,"E":-2.197},{"b":"ph","k":454,"E":-2.202},{"b":"ph","k":487,"E":-2.323},{"b":"ph","k":520,"E":-2.396},{"b":"ph","k":555,"E":-2.42},{"b":"ph","k":587,"E":-2.372},{"b":"ph","k":620,"E":-2.335},{"b":"ph","k":665,"E":-2.384},{"b":"ph","k":687,"E":-2.396},{"b":"ph","k":737,"E":-2.396},{"b":"ph","k":787,"E":-2.27},{"b":"ph","k":837,"E":-2.251},{"b":"ph","k":887,"E":-2.19},{"b":"ph","k":937,"E":-2.226},{"b":"ph","k":970,"E":-2.311},{"b":"ph","k":1015,"E":-2.343},{"b":"ph","k":1047,"E":-2.335},{"b":"ph","k":1104,"E":-2.263},{"b":"ph","k":1203,"E":-2.197},{"b":"ph","k":1203.01,"E":-2.214},{"b":"ph","k":1270,"E":-2.251},{"b":"ph","k":1337,"E":-2.311},{"b":"ph","k":1394,"E":-2.347},
{"b":"pi","k":0,"E":-2.711},{"b":"pi","k":59,"E":-2.723},{"b":"pi","k":129,"E":-2.747},{"b":"pi","k":206,"E":-2.754},{"b":"pi","k":226,"E":-2.723},{"b":"pi","k":259,"E":-2.602},{"b":"pi","k":293,"E":-2.468},{"b":"pi","k":337,"E":-2.311},{"b":"pi","k":367,"E":-2.275},{"b":"pi","k":394,"E":-2.231},{"b":"pi","k":447,"E":-2.323},{"b":"pi","k":487,"E":-2.444},{"b":"pi","k":520,"E":-2.614},{"b":"pi","k":544,"E":-2.723},{"b":"pi","k":604,"E":-2.74},{"b":"pi","k":665,"E":-2.735},{"b":"pi","k":687,"E":-2.759},{"b":"pi","k":720,"E":-2.686},{"b":"pi","k":770,"E":-2.517},{"b":"pi","k":804,"E":-2.347},{"b":"pi","k":854,"E":-2.275},{"b":"pi","k":880,"E":-2.251},{"b":"pi","k":920,"E":-2.35},{"b":"pi","k":954,"E":-2.55},{"b":"pi","k":985,"E":-2.76},{"b":"pi","k":1016,"E":-2.88},{"b":"pi","k":1037,"E":-2.856},{"b":"pi","k":1070,"E":-2.783},{"b":"pi","k":1104,"E":-2.62},{"b":"pi","k":1137,"E":-2.45},{"b":"pi","k":1177,"E":-2.33},{"b":"pi","k":1203,"E":-2.3},{"b":"pi","k":1203.01,"E":-2.32},{"b":"pi","k":1237,"E":-2.33},{"b":"pi","k":1287,"E":-2.47},{"b":"pi","k":1337,"E":-2.66},{"b":"pi","k":1374,"E":-2.83},{"b":"pi","k":1394,"E":-2.88},
{"b":"pj","k":0,"E":-2.88},{"b":"pj","k":37,"E":-2.856},{"b":"pj","k":77,"E":-2.808},{"b":"pj","k":124,"E":-2.771},{"b":"pj","k":137,"E":-2.779},{"b":"pj","k":157,"E":-2.832},{"b":"pj","k":187,"E":-2.892},{"b":"pj","k":204,"E":-2.904},{"b":"pj","k":220,"E":-2.899},{"b":"pj","k":237,"E":-2.868},{"b":"pj","k":270,"E":-2.759},{"b":"pj","k":300,"E":-2.6},{"b":"pj","k":337,"E":-2.347},{"b":"pj","k":370,"E":-2.347},{"b":"pj","k":404,"E":-2.287},{"b":"pj","k":437,"E":-2.372},{"b":"pj","k":470,"E":-2.493},{"b":"pj","k":504,"E":-2.662},{"b":"pj","k":537,"E":-2.783},{"b":"pj","k":604,"E":-2.832},{"b":"pj","k":665,"E":-2.832},{"b":"pj","k":687,"E":-2.78},{"b":"pj","k":737,"E":-2.5},{"b":"pj","k":770,"E":-2.36},{"b":"pj","k":804,"E":-2.323},{"b":"pj","k":827,"E":-2.379},{"b":"pj","k":857,"E":-2.323},{"b":"pj","k":894,"E":-2.396},{"b":"pj","k":954,"E":-2.662},{"b":"pj","k":1015,"E":-2.711},{"b":"pj","k":1047,"E":-2.638},{"b":"pj","k":1087,"E":-2.468},{"b":"pj","k":1137,"E":-2.36},{"b":"pj","k":1177,"E":-2.299},{"b":"pj","k":1203,"E":-2.275},{"b":"pj","k":1254,"E":-2.287},{"b":"pj","k":1304,"E":-2.347},{"b":"pj","k":1354,"E":-2.5},{"b":"pj","k":1394,"E":-2.71},
{"b":"h1","k":0,"E":-3.29},{"b":"h1","k":37,"E":-3.28},{"b":"h1","k":70,"E":-3.26},{"b":"h1","k":127,"E":-3.27},{"b":"h1","k":154,"E":-3.26},{"b":"h1","k":204,"E":-3.24},{"b":"h1","k":220,"E":-3.22},{"b":"h1","k":254,"E":-3.12},{"b":"h1","k":287,"E":-2.98},{"b":"h1","k":320,"E":-2.81},{"b":"h1","k":345,"E":-2.62},{"b":"h1","k":367,"E":-2.43},{"b":"h1","k":390,"E":-2.55},{"b":"h1","k":414,"E":-2.74},{"b":"h1","k":437,"E":-2.88},{"b":"h1","k":464,"E":-3.15},{"b":"h1","k":484,"E":-3.28},{"b":"h1","k":510,"E":-3.36},{"b":"h1","k":537,"E":-3.4},{"b":"h1","k":577,"E":-3.4},{"b":"h1","k":604,"E":-3.39},{"b":"h1","k":637,"E":-3.36},{"b":"h1","k":665,"E":-3.33},{"b":"h1","k":687,"E":-3.207},{"b":"h1","k":720,"E":-3.098},{"b":"h1","k":754,"E":-2.929},{"b":"h1","k":775,"E":-2.735},{"b":"h1","k":795,"E":-2.6},{"b":"h1","k":820,"E":-2.43},{"b":"h1","k":840,"E":-2.5},{"b":"h1","k":854,"E":-2.565},{"b":"h1","k":877,"E":-2.735},{"b":"h1","k":904,"E":-2.929},{"b":"h1","k":927,"E":-3.098},{"b":"h1","k":954,"E":-3.268},{"b":"h1","k":977,"E":-3.377},{"b":"h1","k":994,"E":-3.401},{"b":"h1","k":1016,"E":-3.418},{"b":"h1","k":1047,"E":-3.45},{"b":"h1","k":1077,"E":-3.534},{"b":"h1","k":1104,"E":-3.655},{"b":"h1","k":1130,"E":-3.752},{"b":"h1","k":1154,"E":-3.8},{"b":"h1","k":1180,"E":-3.836},{"b":"h1","k":1203,"E":-3.844},{"b":"h1","k":1203.01,"E":-3.921},{"b":"h1","k":1250,"E":-3.945},{"b":"h1","k":1264,"E":-3.933},{"b":"h1","k":1290,"E":-3.824},{"b":"h1","k":1320,"E":-3.655},{"b":"h1","k":1350,"E":-3.461},{"b":"h1","k":1370,"E":-3.425},{"b":"h1","k":1394,"E":-3.413},
{"b":"h2","k":0,"E":-3.53},{"b":"h2","k":14,"E":-3.49},{"b":"h2","k":37,"E":-3.43},{"b":"h2","k":54,"E":-3.41},{"b":"h2","k":70,"E":-3.44},{"b":"h2","k":94,"E":-3.49},{"b":"h2","k":117,"E":-3.52},{"b":"h2","k":130,"E":-3.53},{"b":"h2","k":154,"E":-3.5},{"b":"h2","k":170,"E":-3.51},{"b":"h2","k":204,"E":-3.53},{"b":"h2","k":227,"E":-3.57},{"b":"h2","k":239,"E":-3.62},{"b":"h2","k":254,"E":-3.66},{"b":"h2","k":270,"E":-3.7},{"b":"h2","k":304,"E":-3.78},{"b":"h2","k":352,"E":-3.85},{"b":"h2","k":367,"E":-3.873},{"b":"h2","k":404,"E":-3.921},{"b":"h2","k":434,"E":-3.933},{"b":"h2","k":454,"E":-3.921},{"b":"h2","k":484,"E":-3.776},{"b":"h2","k":500,"E":-3.74},{"b":"h2","k":524,"E":-3.655},{"b":"h2","k":554,"E":-3.51},{"b":"h2","k":577,"E":-3.47},{"b":"h2","k":604,"E":-3.42},{"b":"h2","k":637,"E":-3.37},{"b":"h2","k":665,"E":-3.36},{"b":"h2","k":665.01,"E":-3.46},{"b":"h2","k":687,"E":-3.51},{"b":"h2","k":707,"E":-3.546},{"b":"h2","k":730,"E":-3.607},{"b":"h2","k":770,"E":-3.752},{"b":"h2","k":817,"E":-3.897},{"b":"h2","k":860,"E":-3.8},{"b":"h2","k":904,"E":-3.655},{"b":"h2","k":947,"E":-3.51},{"b":"h2","k":987,"E":-3.38},{"b":"h2","k":1016,"E":-3.3},{"b":"h2","k":1047,"E":-3.22},{"b":"h2","k":1080,"E":-3.12},{"b":"h2","k":1110,"E":-2.98},{"b":"h2","k":1140,"E":-2.8},{"b":"h2","k":1170,"E":-2.62},{"b":"h2","k":1203,"E":-2.42},{"b":"h2","k":1230,"E":-2.6},{"b":"h2","k":1247,"E":-2.735},{"b":"h2","k":1270,"E":-2.904},{"b":"h2","k":1304,"E":-3.122},{"b":"h2","k":1327,"E":-3.255},{"b":"h2","k":1357,"E":-3.352},{"b":"h2","k":1384,"E":-3.304},{"b":"h2","k":1394,"E":-3.292},
{"b":"h3","k":0,"E":-3.42},{"b":"h3","k":37,"E":-3.39},{"b":"h3","k":70,"E":-3.38},{"b":"h3","k":104,"E":-3.36},{"b":"h3","k":150,"E":-3.35},{"b":"h3","k":204,"E":-3.33},{"b":"h3","k":214,"E":-3.34},{"b":"h3","k":227,"E":-3.45},{"b":"h3","k":239,"E":-3.61},{"b":"h3","k":254,"E":-3.87},{"b":"h3","k":267,"E":-4.14},{"b":"h3","k":277,"E":-4.31},{"b":"h3","k":290,"E":-4.58},{"b":"h3","k":304,"E":-4.82},{"b":"h3","k":310,"E":-5.0},{"b":"h3","k":315,"E":-5.1},
{"b":"h3b","k":0,"E":-3.6},{"b":"h3b","k":14,"E":-3.66},{"b":"h3b","k":34,"E":-3.79},{"b":"h3b","k":50,"E":-3.89},{"b":"h3b","k":70,"E":-3.97},{"b":"h3b","k":104,"E":-4.07},{"b":"h3b","k":130,"E":-4.08},{"b":"h3b","k":170,"E":-4.07},{"b":"h3b","k":204,"E":-4.08},{"b":"h3b","k":237,"E":-4.12},{"b":"h3b","k":270,"E":-4.18},{"b":"h3b","k":287,"E":-4.24},{"b":"h3b","k":304,"E":-4.28},{"b":"h3b","k":352,"E":-4.38},{"b":"h3b","k":370,"E":-4.38},{"b":"h3b","k":404,"E":-4.345},{"b":"h3b","k":437,"E":-4.284},{"b":"h3b","k":470,"E":-4.212},{"b":"h3b","k":490,"E":-4.12},{"b":"h3b","k":504,"E":-3.98},{"b":"h3b","k":515,"E":-3.75},{"b":"h3b","k":527,"E":-3.58},{"b":"h3b","k":554,"E":-3.51},{"b":"h3b","k":577,"E":-3.56},{"b":"h3b","k":604,"E":-3.53},{"b":"h3b","k":637,"E":-3.46},{"b":"h3b","k":665,"E":-3.47},{"b":"h3b","k":665.01,"E":-3.57},{"b":"h3b","k":697,"E":-3.57},{"b":"h3b","k":712,"E":-3.88},{"b":"h3b","k":727,"E":-4.18},{"b":"h3b","k":740,"E":-4.53},{"b":"h3b","k":764,"E":-5.05},
{"b":"h4","k":0,"E":-4.61},{"b":"h4","k":37,"E":-4.59},{"b":"h4","k":70,"E":-4.53},{"b":"h4","k":87,"E":-4.47},{"b":"h4","k":104,"E":-4.41},{"b":"h4","k":130,"E":-4.31},{"b":"h4","k":140,"E":-4.31},{"b":"h4","k":155,"E":-4.39},{"b":"h4","k":170,"E":-4.37},{"b":"h4","k":190,"E":-4.32},{"b":"h4","k":204,"E":-4.29},{"b":"h4","k":237,"E":-4.27},{"b":"h4","k":270,"E":-4.26},{"b":"h4","k":352,"E":-4.26},{"b":"h4","k":370,"E":-4.248},{"b":"h4","k":404,"E":-4.212},{"b":"h4","k":434,"E":-4.139},{"b":"h4","k":464,"E":-4.079},{"b":"h4","k":487,"E":-4.042},{"b":"h4","k":510,"E":-4.018},{"b":"h4","k":537,"E":-3.994},{"b":"h4","k":554,"E":-3.97},{"b":"h4","k":570,"E":-3.921},{"b":"h4","k":587,"E":-3.885},{"b":"h4","k":620,"E":-3.921},{"b":"h4","k":665,"E":-4.067},{"b":"h4","k":687,"E":-4.091},{"b":"h4","k":720,"E":-4.188},{"b":"h4","k":734,"E":-4.2},{"b":"h4","k":787,"E":-4.188},{"b":"h4","k":820,"E":-4.236},{"b":"h4","k":860,"E":-4.333},{"b":"h4","k":900,"E":-4.466},{"b":"h4","k":927,"E":-4.551},{"b":"h4","k":940,"E":-4.43},{"b":"h4","k":964,"E":-3.994},{"b":"h4","k":980,"E":-3.752},{"b":"h4","k":997,"E":-3.607},{"b":"h4","k":1016,"E":-3.558},{"b":"h4","k":1037,"E":-3.582},{"b":"h4","k":1057,"E":-3.703},{"b":"h4","k":1087,"E":-3.849},{"b":"h4","k":1130,"E":-4.043},{"b":"h4","k":1154,"E":-4.127},{"b":"h4","k":1180,"E":-4.175},{"b":"h4","k":1203,"E":-4.2},{"b":"h4","k":1224,"E":-4.183},{"b":"h4","k":1254,"E":-4.115},{"b":"h4","k":1277,"E":-4.054},{"b":"h4","k":1310,"E":-3.873},{"b":"h4","k":1337,"E":-3.728},{"b":"h4","k":1357,"E":-3.655},{"b":"h4","k":1377,"E":-3.57},{"b":"h4","k":1394,"E":-3.534},
{"b":"h5","k":927,"E":-4.551},{"b":"h5","k":945,"E":-4.36},{"b":"h5","k":966,"E":-4.06},{"b":"h5","k":982,"E":-3.85},{"b":"h5","k":998,"E":-3.68},{"b":"h5","k":1016,"E":-3.61},{"b":"h5","k":1037,"E":-3.64},{"b":"h5","k":1057,"E":-3.75},{"b":"h5","k":1087,"E":-3.9},{"b":"h5","k":1130,"E":-4.06},{"b":"h5","k":1170,"E":-4.14},{"b":"h5","k":1203,"E":-4.16},{"b":"h5","k":1254,"E":-4.2},{"b":"h5","k":1290,"E":-4.27},{"b":"h5","k":1314,"E":-4.36},{"b":"h5","k":1324,"E":-4.28},{"b":"h5","k":1354,"E":-3.8},{"b":"h5","k":1370,"E":-3.67},{"b":"h5","k":1394,"E":-3.61},
{"b":"h6","k":464,"E":-4.62},{"b":"h6","k":480,"E":-4.45},{"b":"h6","k":497,"E":-4.1},{"b":"h6","k":527,"E":-4.05},{"b":"h6","k":554,"E":-4.03},{"b":"h6","k":590,"E":-4.06},{"b":"h6","k":620,"E":-4.2},{"b":"h6","k":640,"E":-4.42},{"b":"h6","k":655,"E":-4.47},{"b":"h6","k":665,"E":-4.45},
{"b":"l46","k":457,"E":-5.05},{"b":"l46","k":474,"E":-4.74},{"b":"l46","k":497,"E":-4.72},{"b":"l46","k":537,"E":-4.6},{"b":"l46","k":570,"E":-4.58},{"b":"l46","k":665,"E":-4.5},{"b":"l46","k":687,"E":-4.599},{"b":"l46","k":740,"E":-4.587},{"b":"l46","k":787,"E":-4.551},{"b":"l46","k":820,"E":-4.58},{"b":"l46","k":860,"E":-4.623},{"b":"l46","k":927,"E":-4.684},{"b":"l46","k":940,"E":-4.636},{"b":"l46","k":987,"E":-4.619},{"b":"l46","k":1016,"E":-4.599},{"b":"l46","k":1047,"E":-4.619},{"b":"l46","k":1104,"E":-4.65},{"b":"l46","k":1203,"E":-4.62},{"b":"l46","k":1203.01,"E":-4.5},{"b":"l46","k":1250,"E":-4.56},{"b":"l46","k":1297,"E":-4.66},{"b":"l46","k":1317,"E":-4.38},{"b":"l46","k":1327,"E":-4.4},{"b":"l46","k":1350,"E":-4.55},{"b":"l46","k":1380,"E":-4.62},{"b":"l46","k":1394,"E":-4.63},
{"b":"l49","k":485,"E":-5.05},{"b":"l49","k":504,"E":-4.87},{"b":"l49","k":514,"E":-4.88},{"b":"l49","k":554,"E":-4.9},{"b":"l49","k":604,"E":-4.89},{"b":"l49","k":630,"E":-4.82},{"b":"l49","k":665,"E":-4.62},{"b":"l49","k":697,"E":-4.72},{"b":"l49","k":712,"E":-4.85},{"b":"l49","k":727,"E":-5.05},
{"b":"w9h","k":0,"E":-4.58},{"b":"w9h","k":37,"E":-4.55},{"b":"w9h","k":80,"E":-4.51},{"b":"w9h","k":104,"E":-4.5},{"b":"w9h","k":137,"E":-4.5},{"b":"w9h","k":170,"E":-4.53},{"b":"w9h","k":204,"E":-4.56},{"b":"w9h","k":227,"E":-4.64},{"b":"w9h","k":247,"E":-4.7},{"b":"w9h","k":270,"E":-4.77},{"b":"w9h","k":300,"E":-4.82},{"b":"w9h","k":352,"E":-4.95},{"b":"w9h","k":380,"E":-4.99},{"b":"w9h","k":420,"E":-5.0},{"b":"w9h","k":440,"E":-4.99},{"b":"w9h","k":460,"E":-5.03},
{"b":"w9i","k":0,"E":-4.65},{"b":"w9i","k":37,"E":-4.62},{"b":"w9i","k":77,"E":-4.61},{"b":"w9i","k":137,"E":-4.61},{"b":"w9i","k":164,"E":-4.6},{"b":"w9i","k":187,"E":-4.58},{"b":"w9i","k":205,"E":-4.56},{"b":"w9i","k":230,"E":-4.65},{"b":"w9i","k":254,"E":-4.75},{"b":"w9i","k":270,"E":-4.83},{"b":"w9i","k":284,"E":-4.85},{"b":"w9i","k":304,"E":-4.82},{"b":"w9i","k":327,"E":-4.72},{"b":"w9i","k":352,"E":-4.61},{"b":"w9i","k":370,"E":-4.52},{"b":"w9i","k":404,"E":-4.51},{"b":"w9i","k":437,"E":-4.54},{"b":"w9i","k":464,"E":-4.62},{"b":"w9i","k":475,"E":-4.8},{"b":"w9i","k":482,"E":-5.05},
{"b":"w9j","k":0,"E":-4.97},{"b":"w9j","k":24,"E":-4.93},{"b":"w9j","k":44,"E":-4.82},{"b":"w9j","k":70,"E":-4.64},{"b":"w9j","k":94,"E":-4.61},{"b":"w9j","k":137,"E":-4.62},{"b":"w9j","k":160,"E":-4.64},{"b":"w9j","k":184,"E":-4.72},{"b":"w9j","k":204,"E":-4.75},{"b":"w9j","k":227,"E":-4.78},{"b":"w9j","k":247,"E":-4.87},{"b":"w9j","k":267,"E":-5.0},{"b":"w9j","k":275,"E":-5.05},
{"b":"s1","k":687,"E":-4.67},{"b":"s1","k":707,"E":-4.79},{"b":"s1","k":727,"E":-4.91},{"b":"s1","k":747,"E":-5.05},
{"b":"s2","k":884,"E":-5.05},{"b":"s2","k":920,"E":-4.914},{"b":"s2","k":932,"E":-4.708},{"b":"s2","k":940,"E":-4.636},
{"b":"s3","k":920,"E":-5.05},{"b":"s3","k":927,"E":-4.865},{"b":"s3","k":954,"E":-4.817},{"b":"s3","k":980,"E":-4.672},{"b":"s3","k":1016,"E":-4.575},{"b":"s3","k":1047,"E":-4.623},{"b":"s3","k":1080,"E":-4.7},{"b":"s3","k":1110,"E":-4.86},{"b":"s3","k":1117,"E":-5.05},
{"b":"s4","k":954,"E":-5.05},{"b":"s4","k":987,"E":-4.974},{"b":"s4","k":1016,"E":-4.974},{"b":"s4","k":1047,"E":-4.962},{"b":"s4","k":1057,"E":-4.95},{"b":"s4","k":1084,"E":-5.05},
{"b":"s5","k":1016,"E":-4.64},{"b":"s5","k":1047,"E":-4.66},{"b":"s5","k":1090,"E":-4.72},{"b":"s5","k":1130,"E":-4.85},{"b":"s5","k":1145,"E":-5.05},
{"b":"s6","k":1267,"E":-5.05},{"b":"s6","k":1287,"E":-4.962},{"b":"s6","k":1300,"E":-4.744},{"b":"s6","k":1314,"E":-4.72},{"b":"s6","k":1394,"E":-4.6},
{"b":"s7","k":1287,"E":-5.05},{"b":"s7","k":1297,"E":-4.914},{"b":"s7","k":1370,"E":-4.611},{"b":"s7","k":1394,"E":-4.575},
{"b":"s8","k":1323,"E":-5.05},{"b":"s8","k":1337,"E":-4.95},{"b":"s8","k":1364,"E":-4.94},{"b":"s8","k":1394,"E":-4.97}
]},
"layer":[
{"data":{"name":"bands"},
 "mark":{"type":"line","color":"black","strokeWidth":1.5,"clip":true},
 "encoding":{
  "x":{"field":"k","type":"quantitative","scale":{"domain":[0,1393],"nice":false,"zero":false},
   "axis":{"values":[0,129,154,205,367,555,665,817,1016,1203,1393],
    "labelExpr":"datum.value==0?'Γ':datum.value==129?'Y':datum.value==154?'F':datum.value==205?'L':datum.value==367?'I  I₁':datum.value==555?'Z':datum.value==665?'F₁ Y':datum.value==817?'X₁ X':datum.value==1016?'Γ':datum.value==1203?'N  M':'Γ'",
    "title":null,"grid":true,"gridDash":[3,3],"gridColor":"#9a9a9a","gridWidth":1,"domain":false,
    "tickSize":-10,"tickColor":"black","tickWidth":1.5,"labelFontSize":21,"labelColor":"black","labelPadding":27,
    "labelFont":{"condition":{"test":"datum.value==0||datum.value==1016||datum.value==1393","value":"Liberation Serif"},"value":"Liberation Sans"},
    "labelFlush":false,"labelOverlap":false,"labelBound":false}},
  "y":{"field":"E","type":"quantitative","scale":{"domain":[-5,2],"nice":false,"zero":false},
   "axis":{"values":[-5,-4,-3,-2,-1,0,1,2],"labelExpr":"''+datum.value","title":null,"grid":false,"domain":false,
    "tickSize":-10,"tickColor":"black","tickWidth":1.5,"labelFontSize":21,"labelColor":"black","labelPadding":25,"labelFlush":false,"labelOverlap":false}},
  "detail":{"field":"b"},
  "order":{"field":"k","type":"quantitative"}}},
{"mark":{"type":"rule","color":"#56b4e9","strokeWidth":1.5},
 "encoding":{"y":{"datum":0,"type":"quantitative","axis":null}}},
{"data":{"name":"bands"},
 "mark":{"type":"line","strokeOpacity":0,"clip":true},
 "encoding":{
  "x":{"field":"k","type":"quantitative","axis":{"orient":"top","values":[129,154,205,367,555,665,817,1016,1203],"labels":false,"grid":false,"domain":false,"title":null,"tickSize":-10,"tickColor":"black","tickWidth":1.5}},
  "y":{"field":"E","type":"quantitative","axis":{"orient":"right","values":[-5,-4,-3,-2,-1,0,1,2],"labels":false,"grid":false,"domain":false,"title":null,"tickSize":-10,"tickColor":"black","tickWidth":1.5}},
  "detail":{"field":"b"}}}
],
"resolve":{"axis":{"x":"independent","y":"independent"}}
}
